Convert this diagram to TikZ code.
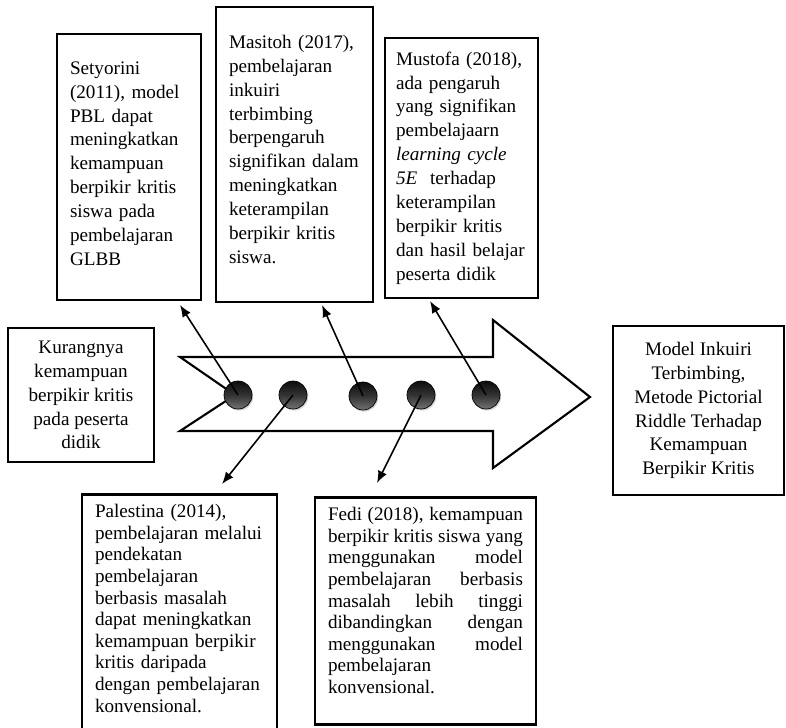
\documentclass[tikz,border=0pt]{standalone}
\usepackage{fontspec}
\setmainfont{Liberation Serif}
\usetikzlibrary{arrows.meta,shadows}
\hyphenpenalty=10000
\exhyphenpenalty=10000
\tikzstyle{kotak}=[rectangle,draw=black,line width=1.5pt,inner xsep=0.26cm,inner ysep=0.24cm,font=\fontsize{10.9}{13.6}\selectfont,align=left]
\tikzstyle{kotakbawah}=[kotak,anchor=north,inner ysep=0.2cm,font=\fontsize{10.9}{12.3}\selectfont]
\tikzstyle{bola}=[circle,draw=black,line width=0.4pt,minimum size=0.56cm,inner sep=0pt,top color=black!95,bottom color=black!55,middle color=black!80,drop shadow={opacity=0.35,shadow xshift=0.7pt,shadow yshift=-0.9pt}]
\tikzstyle{panah}=[-{Latex[length=2.4mm,width=1.9mm]},line width=0.9pt]

\begin{document}
\begin{tikzpicture}[x=0.02cm,y=-0.02cm]
\clip (0,0) rectangle (786,727);
% panah besar
\draw[line width=1.2pt,fill=white] (180,357) -- (493,357) -- (493,320) -- (590,397) -- (493,468) -- (493,431) -- (180,431) -- (235,395) -- cycle;
% kotak atas
\node[kotak,minimum width=2.88cm,minimum height=5.32cm,text width=2.36cm] (setyorini) at (129,167) {Setyorini\\(2011), model\\PBL dapat\\meningkatkan\\kemampuan\\berpikir kritis\\siswa pada\\pembelajaran\\GLBB\rule[-4pt]{0pt}{1pt}};
\node[kotak,minimum width=3.14cm,minimum height=5.9cm,text width=2.62cm] (masitoh) at (294.5,154.5) {Masitoh (2017),\\pembelajaran\\inkuiri\\terbimbing\\berpengaruh\\signifikan dalam\\meningkatkan\\keterampilan\\berpikir kritis\\siswa.\rule[-6pt]{0pt}{1pt}};
\node[kotak,inner xsep=0.22cm,minimum width=3.06cm,minimum height=5.2cm,text width=2.62cm] (mustofa) at (461.5,168) {Mustofa (2018),\\ada pengaruh\\yang signifikan\\pembelajaarn\\\textit{learning cycle}\\\textit{5E}\ \ terhadap\\keterampilan\\berpikir kritis\\dan hasil belajar\\peserta didik};
% kotak kiri dan kanan
\node[kotak,align=center,minimum width=2.92cm,minimum height=2.68cm] (kurang) at (81,395) {Kurangnya\\kemampuan\\berpikir kritis\\pada peserta\\didik};
\node[kotak,align=center,minimum width=3.42cm,minimum height=3.38cm] (model) at (698.5,410.5) {Model Inkuiri\\Terbimbing,\\Metode Pictorial\\Riddle Terhadap\\Kemampuan\\Berpikir Kritis};
% kotak bawah
\node[kotakbawah,minimum width=3.9cm,text width=3.38cm] (palestina) at (179.5,493) {Palestina (2014),\\pembelajaran melalui\\pendekatan\\pembelajaran\\berbasis masalah\\dapat meningkatkan\\kemampuan berpikir\\kritis daripada\\dengan pembelajaran\\konvensional.\rule[-40pt]{0pt}{1pt}};
\node[kotakbawah,align=justify,minimum width=4.42cm,text width=3.9cm] (fedi) at (425.5,496) {Fedi (2018), kemampuan\linebreak berpikir kritis siswa yang\linebreak menggunakan model\linebreak pembelajaran berbasis\linebreak masalah lebih tinggi\linebreak dibandingkan dengan\linebreak menggunakan model\linebreak pembelajaran\newline konvensional.\rule[-12pt]{0pt}{1pt}};
% bola
\node[bola] (bola1) at (238,395) {};
\node[bola] (bola2) at (293,395) {};
\node[bola] (bola3) at (363,396) {};
\node[bola] (bola4) at (421,395) {};
\node[bola] (bola5) at (486,395) {};
% ujung panah
\coordinate (u1) at (180,305);
\coordinate (u3) at (322,305);
\coordinate (u5) at (430,301);
\coordinate (d2) at (222,484);
\coordinate (d4) at (377,483);
\draw[panah] (bola1.center) -- (u1);
\draw[panah] (bola3.center) -- (u3);
\draw[panah] (bola5.center) -- (u5);
\draw[panah] (bola2.center) -- (d2);
\draw[panah] (bola4.center) -- (d4);
\end{tikzpicture}
\end{document}
